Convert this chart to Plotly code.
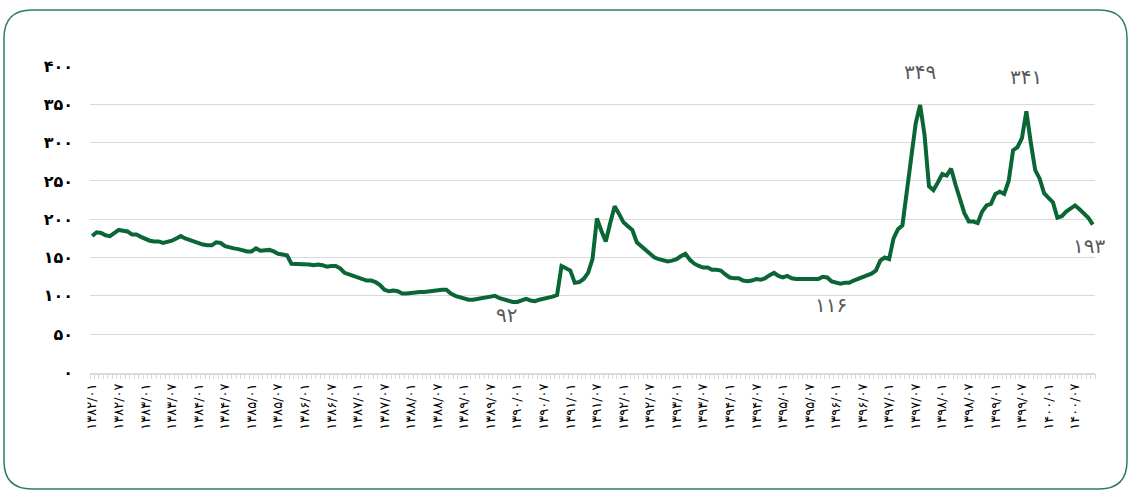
import plotly.graph_objects as go

# Monthly series, 1382/01 .. 1400/11
values = [
    178, 183, 182, 179, 178, 182, 186, 185, 184, 180,
    180, 177, 174, 172, 171, 171, 169, 170, 172, 175,
    178, 175, 173, 171, 168, 167, 166, 166, 170, 169,
    165, 163, 162, 161, 159, 158, 158, 162, 159, 159,
    160, 158, 155, 154, 153, 142, 142, 142, 142, 141,
    140, 141, 140, 138, 139, 139, 136, 130, 128, 126,
    123, 121, 120, 120, 118, 114, 108, 106, 107, 106,
    103, 103, 104, 104, 105, 105, 106, 107, 108, 108,
    108, 103, 100, 98, 97, 95, 95, 96, 97, 97,
    99, 100, 97, 95, 93, 92, 92, 94, 96, 94,
    93, 95, 96, 97, 99, 101, 139, 136, 133, 117,
    118, 122, 130, 148, 201, 185, 171, 195, 217, 207,
    196, 191, 186, 170, 165, 160, 155, 150, 148, 146,
    145, 146, 148, 152, 155, 147, 142, 139, 137, 137,
    134, 134, 133, 128, 124, 123, 123, 120, 119, 120,
    122, 121, 123, 127, 130, 126, 124, 126, 123, 122,
    122, 122, 122, 122, 122, 125, 124, 119, 117, 116,
    117, 117, 120, 122, 125, 127, 129, 133, 146, 150,
    148, 175, 187, 192, 240, 285, 325, 349, 310, 243,
    238, 248, 259, 257, 266, 245, 227, 208, 197, 197,
    195, 210, 218, 220, 233, 236, 233, 250, 290, 294,
    306, 341, 300, 264, 253, 234, 228, 222, 202, 204,
    210, 214, 218, 213, 208, 202, 193,
]

start_year = 1382
label_years = list(range(1382, 1401))
label_months = [1, 7]

y_ticks = [0, 50, 100, 150, 200, 250, 300, 350, 400]

# Highlighted points: (month index, value)
callouts = [(187, 349), (211, 341), (95, 92), (169, 116), (226, 193)]
callout_shift = {187: (0, 33), 211: (0, 34), 95: (-6, -13), 169: (-9, -21), 226: (-4, -21)}

FA_DIGITS = str.maketrans("0123456789", "۰۱۲۳۴۵۶۷۸۹")


def fa(s):
    return str(s).translate(FA_DIGITS)


n = len(values)
months = list(range(n))

tick_pos, tick_txt = [], []
for yr in label_years:
    for mo in label_months:
        idx = (yr - start_year) * 12 + (mo - 1)
        if idx < n:
            tick_pos.append(idx)
            tick_txt.append(fa(f"{yr}/{mo:02d}"))

W, H = 1132, 491
left, right, top, bottom = 90, 1095, 66, 372.5

fig = go.Figure()
fig.add_trace(go.Scatter(
    x=months, y=values, mode="lines",
    line=dict(color="#0b6636", width=4),
    hoverinfo="skip",
))

for idx, val in callouts:
    dx, dy = callout_shift[idx]
    fig.add_annotation(
        x=idx, y=val, xref="x", yref="y", text=fa(val), showarrow=False,
        xshift=dx, yshift=dy,
        font=dict(family="DejaVu Sans", size=20, color="#595959"),
    )


def px(x, y):
    return f"{x / W:.5f},{1 - y / H:.5f}"


# Rounded frame around the chart
x0, x1, y0, y1, r = 4, 1127, 10, 489, 28
frame = (
    f"M {px(x0 + r, y0)} L {px(x1 - r, y0)} Q {px(x1, y0)} {px(x1, y0 + r)} "
    f"L {px(x1, y1 - r)} Q {px(x1, y1)} {px(x1 - r, y1)} "
    f"L {px(x0 + r, y1)} Q {px(x0, y1)} {px(x0, y1 - r)} "
    f"L {px(x0, y0 + r)} Q {px(x0, y0)} {px(x0 + r, y0)} Z"
)
fig.add_shape(type="path", path=frame, xref="paper", yref="paper",
              line=dict(color="#2e7d5b", width=1.5), layer="below")

fig.update_layout(
    template="none",
    width=W, height=H,
    margin=dict(l=0, r=0, t=0, b=0, pad=0, autoexpand=False),
    paper_bgcolor="white", plot_bgcolor="white",
    showlegend=False,
    font=dict(family="DejaVu Sans", color="black"),
    xaxis=dict(
        automargin=False,
        domain=[left / W, right / W],
        range=[-0.5, n - 0.5],
        tickmode="array", tickvals=tick_pos, ticktext=tick_txt,
        tickangle=-90, ticks="",
        tickfont=dict(size=13, color="black"),
        ticklabelstandoff=4,
        showgrid=False, zeroline=False,
        showline=True, linecolor="#d9d9d9", linewidth=1.5,
        minor=dict(
            tickmode="array", tickvals=[i - 0.5 for i in range(n + 1)],
            ticks="outside", ticklen=5, tickwidth=1, tickcolor="#d9d9d9",
            showgrid=False,
        ),
    ),
    yaxis=dict(
        automargin=False,
        domain=[(H - bottom) / H, (H - top) / H],
        range=[0, 400],
        tickmode="array", tickvals=y_ticks, ticktext=[fa(v) for v in y_ticks],
        tickfont=dict(size=16, color="black", weight="bold"),
        ticklabelstandoff=16,
        showgrid=True, gridcolor="#d9d9d9", gridwidth=1,
        zeroline=False, showline=False, ticks="",
    ),
)

fig.write_html("out.html")
